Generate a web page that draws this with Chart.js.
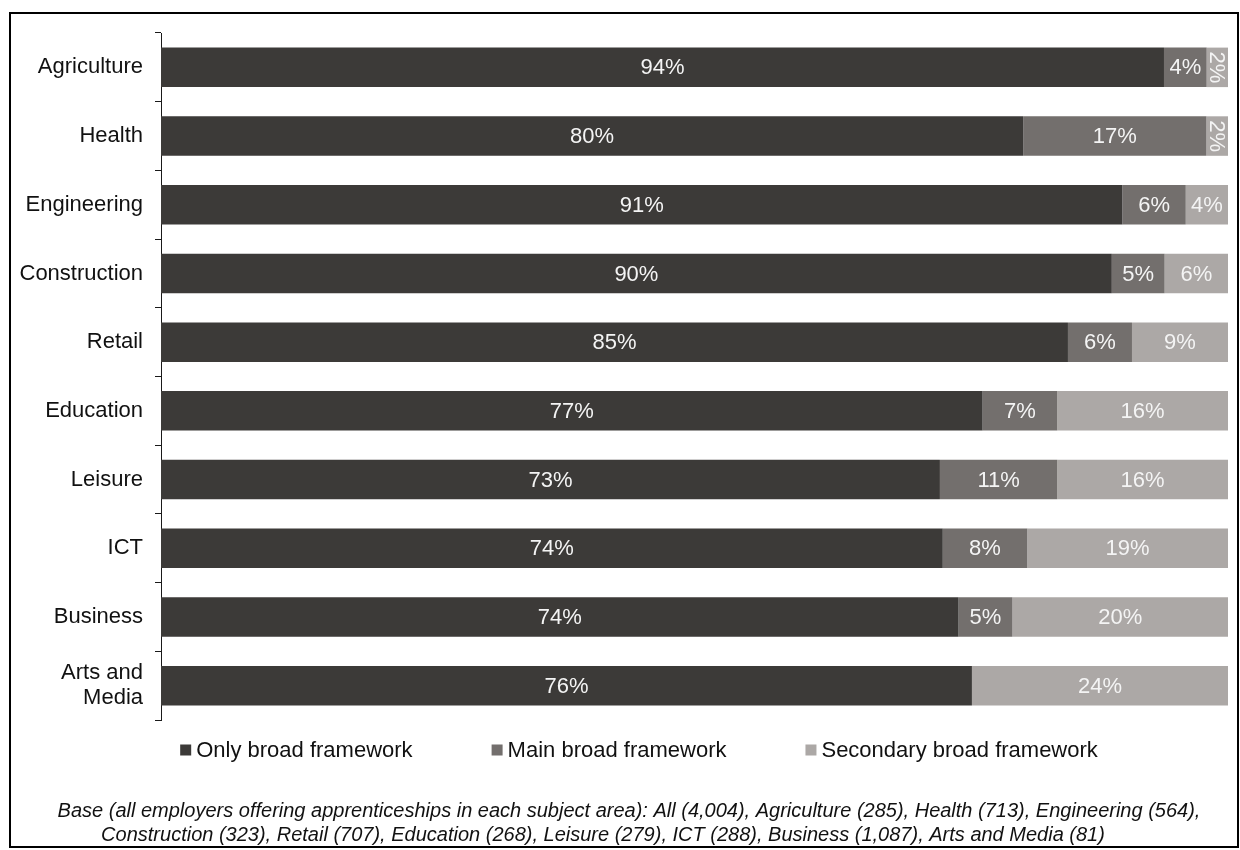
<!DOCTYPE html>
<html>
<head>
<meta charset="utf-8">
<title>Broad framework use by subject area</title>
<script src="https://cdn.jsdelivr.net/npm/chart.js@4.4.1/dist/chart.umd.min.js"></script>
<style>
  html, body { margin: 0; padding: 0; background: #ffffff; }
  #wrap { position: relative; width: 1240px; height: 850px; }
</style>
</head>
<body>
<div id="wrap"><canvas id="chart" width="1240" height="850"></canvas></div>
<script>
// Subject areas, top to bottom
const categories = [
  'Agriculture', 'Health', 'Engineering', 'Construction', 'Retail',
  'Education', 'Leisure', 'ICT', 'Business', ['Arts and', 'Media']
];

// Share of employers (%) in each subject area
const onlyBroad      = [94, 80, 91, 90, 85, 77, 73, 74, 74, 76];
const mainBroad      = [ 4, 17,  6,  5,  6,  7, 11,  8,  5,  0];
const secondaryBroad = [ 2,  2,  4,  6,  9, 16, 16, 19, 20, 24];

const seriesNames  = ['Only broad framework', 'Main broad framework', 'Secondary broad framework'];
const seriesColors = ['#3c3a38', '#736f6d', '#aca8a6'];

const footnoteLines = [
  'Base (all employers offering apprenticeships in each subject area): All (4,004), Agriculture (285), Health (713), Engineering (564),',
  'Construction (323), Retail (707), Education (268), Leisure (279), ICT (288), Business (1,087), Arts and Media (81)'
];

const FONT = '"Liberation Sans", Arial, Helvetica, sans-serif';

// 100% stacked: each row is drawn as its share of the row total
const seriesValues = [onlyBroad, mainBroad, secondaryBroad];
const rowTotals = categories.map((_, i) => seriesValues.reduce((s, arr) => s + arr[i], 0));

const datasets = seriesValues.map((vals, k) => ({
  label: seriesNames[k],
  data: vals.map((v, i) => v / rowTotals[i] * 100),
  rawValues: vals,
  backgroundColor: seriesColors[k],
  borderWidth: 0,
  barPercentage: 0.575,
  categoryPercentage: 1.0
}));

// Percentage labels inside each segment; narrow segments get rotated text
const valueLabels = {
  id: 'valueLabels',
  afterDatasetsDraw(chart) {
    const ctx = chart.ctx;
    ctx.save();
    ctx.font = '22px ' + FONT;
    ctx.fillStyle = '#f4f4f4';
    ctx.textAlign = 'center';
    ctx.textBaseline = 'middle';
    chart.data.datasets.forEach((ds, di) => {
      const meta = chart.getDatasetMeta(di);
      meta.data.forEach((bar, i) => {
        const v = ds.rawValues[i];
        if (!v) return;
        const p = bar.getProps(['x', 'y', 'base'], true);
        const cx = (p.x + p.base) / 2;
        const txt = v + '%';
        const w = ctx.measureText(txt).width;
        const segW = Math.abs(p.x - p.base);
        ctx.save();
        ctx.translate(cx, p.y);
        if (w + 6 > segW) ctx.rotate(Math.PI / 2);
        ctx.fillText(txt, 0, 1);
        ctx.restore();
      });
    });
    ctx.restore();
  }
};

// Single-row legend below the bars
const legendRow = {
  id: 'legendRow',
  afterDraw(chart) {
    const ctx = chart.ctx;
    ctx.save();
    ctx.font = '22px ' + FONT;
    ctx.textAlign = 'left';
    ctx.textBaseline = 'middle';
    const box = 11, gapText = 5, gapItem = 79;
    const items = chart.data.datasets.map(ds => ({
      text: ds.label, color: ds.backgroundColor, w: ctx.measureText(ds.label).width
    }));
    const total = items.reduce((s, it) => s + box + gapText + it.w, 0) + gapItem * (items.length - 1);
    let x = 639 - total / 2;
    const y = 750;
    items.forEach(it => {
      ctx.fillStyle = it.color;
      ctx.fillRect(x, y - box / 2, box, box);
      ctx.fillStyle = '#111111';
      ctx.fillText(it.text, x + box + gapText, y + 1);
      x += box + gapText + it.w + gapItem;
    });
    ctx.restore();
  }
};

// Base note and outer frame
const frameAndNote = {
  id: 'frameAndNote',
  afterDraw(chart) {
    const ctx = chart.ctx;
    ctx.save();
    ctx.font = 'italic 20px ' + FONT;
    ctx.fillStyle = '#111111';
    ctx.textAlign = 'center';
    ctx.textBaseline = 'alphabetic';
    ctx.fillText(footnoteLines[0], 629, 817);
    ctx.fillText(footnoteLines[1], 603, 841);
    ctx.strokeStyle = '#000000';
    ctx.lineWidth = 2;
    ctx.strokeRect(10, 13, 1228, 834);
    ctx.restore();
  }
};

new Chart(document.getElementById('chart'), {
  type: 'bar',
  data: { labels: categories, datasets },
  options: {
    indexAxis: 'y',
    responsive: false,
    animation: false,
    devicePixelRatio: 1,
    layout: { padding: { top: 33, right: 12, bottom: 130, left: 0 } },
    plugins: {
      legend: { display: false },
      tooltip: { enabled: false },
      title: { display: false }
    },
    scales: {
      x: { stacked: true, min: 0, max: 100, display: false },
      y: {
        stacked: true,
        grid: {
          display: true,
          drawOnChartArea: false,
          drawTicks: true,
          tickLength: 6,
          offset: true,
          color: '#1a1a1a',
          lineWidth: 1
        },
        border: { display: true, color: '#1a1a1a', width: 1 },
        ticks: {
          color: '#111111',
          font: { family: FONT, size: 22, lineHeight: 1.15 },
          padding: 12,
          autoSkip: false
        },
        afterFit(scale) {
          scale.width = 161;
          // labels sit inside their bands, so no extra room above/below is needed
          scale.paddingTop = 0;
          scale.paddingBottom = 0;
        }
      }
    }
  },
  plugins: [valueLabels, legendRow, frameAndNote]
});
</script>
</body>
</html>
